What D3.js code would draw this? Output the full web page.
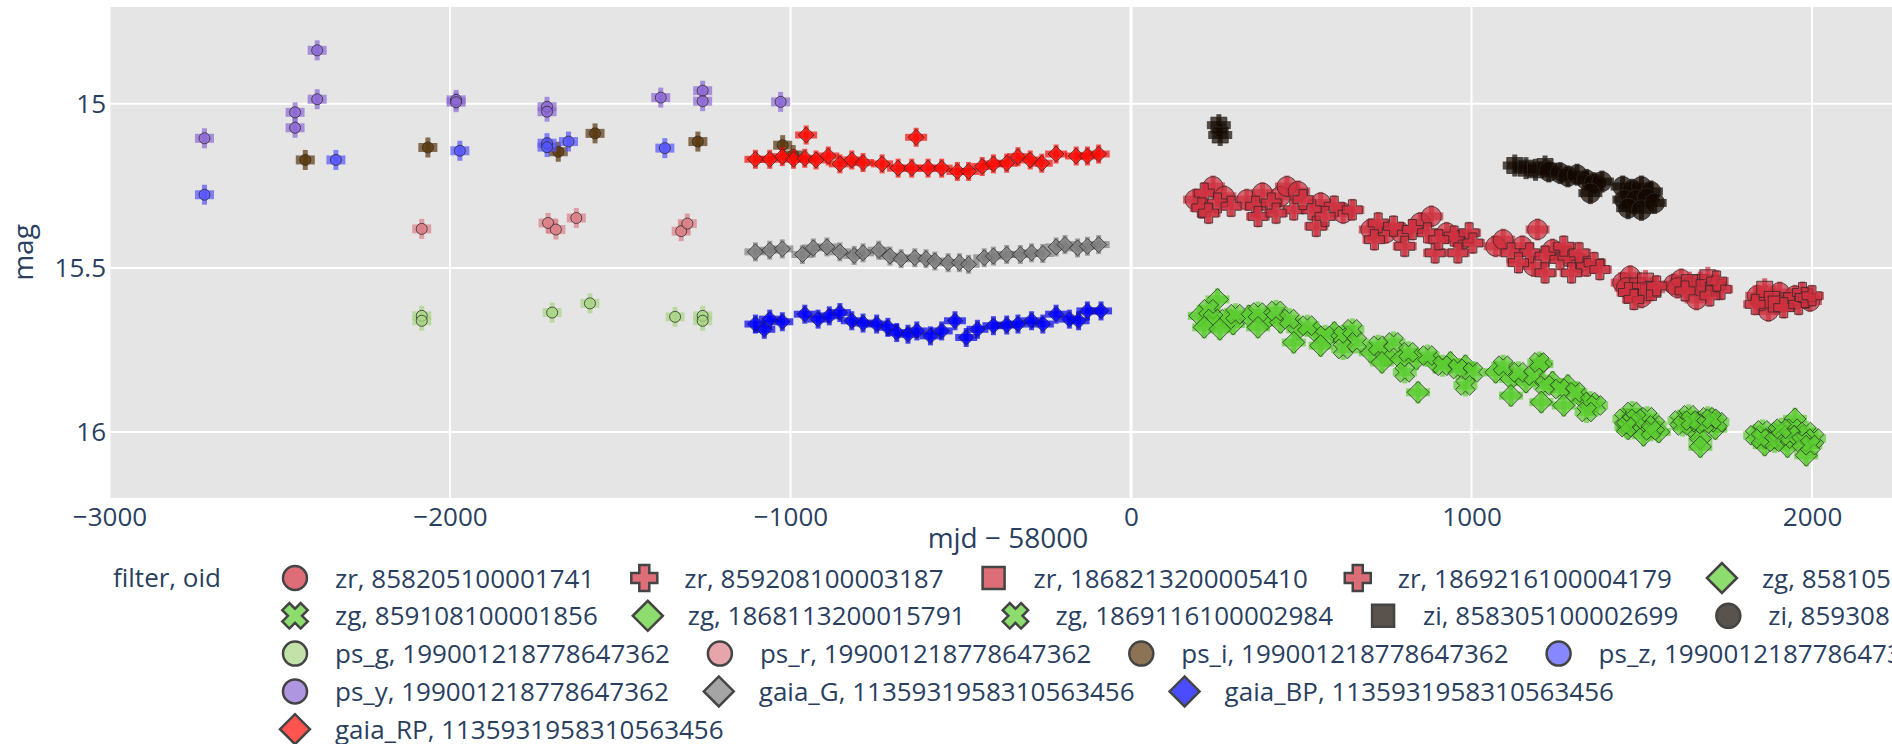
<!DOCTYPE html>
<html><head><meta charset="utf-8">
<script src="https://cdn.jsdelivr.net/npm/d3@7"></script>
<style>
html,body{margin:0;padding:0;background:#fff;overflow:hidden;}
svg text{font-family:"Open Sans",sans-serif;}
</style></head><body>
<svg id="chart" width="1892" height="744"></svg>
<script>
// ---------- data (mjd - 58000, mag) ----------
const xTicks = [-3000, -2000, -1000, 0, 1000, 2000];
const yTicks = [15, 15.5, 16];

const zr_858205100001741 = [[188,15.292],[241,15.252],[274,15.282],[340,15.292],[386,15.272],[439,15.282],[458,15.252],[491,15.267],[557,15.302],[623,15.333],[704,15.383],[749,15.393],[793,15.393],[849,15.363],[882,15.343],[927,15.393],[971,15.414],[1071,15.434],[1093,15.414],[1149,15.434],[1194,15.383],[1238,15.444],[1182,15.494],[1316,15.484],[1444,15.545],[1466,15.525],[1499,15.590],[1455,15.560],[1594,15.550],[1616,15.535],[1661,15.596],[1605,15.560],[1839,15.585],[1872,15.631],[1905,15.575],[1950,15.585],[1994,15.601],[1850,15.600]];
const zr_859208100003187 = [[215,15.272],[254,15.302],[294,15.312],[366,15.312],[412,15.302],[478,15.323],[531,15.323],[597,15.312],[650,15.323],[726,15.363],[771,15.373],[826,15.383],[871,15.393],[949,15.403],[993,15.393],[1004,15.424],[1116,15.454],[1171,15.454],[1216,15.464],[1260,15.474],[1283,15.464],[1338,15.494],[1360,15.484]];
const zr_1868213200005410 = [[1488,15.555],[1511,15.540],[1533,15.565],[1520,15.575],[1490,15.570],[1650,15.555],[1672,15.545],[1694,15.530],[1640,15.545],[1683,15.560],[1861,15.565],[1883,15.596],[1928,15.601],[1895,15.610],[1940,15.600]];
const zr_1869216100004179 = [[208,15.317],[228,15.333],[373,15.343],[426,15.333],[505,15.292],[544,15.373],[570,15.343],[715,15.414],[804,15.434],[893,15.454],[960,15.454],[904,15.414],[1138,15.484],[1216,15.515],[1271,15.434],[1294,15.515],[1316,15.454],[1377,15.505],[1461,15.575],[1477,15.596],[1544,15.555],[1716,15.555],[1733,15.565],[1700,15.585],[1627,15.570],[1720,15.540],[1917,15.621],[1961,15.611],[1972,15.575],[1833,15.611],[1980,15.590],[2000,15.585]];

const zg_858105100001740 = [[202,15.646],[254,15.596],[300,15.671],[346,15.646],[399,15.656],[439,15.666],[491,15.687],[544,15.697],[597,15.697],[704,15.757],[749,15.767],[793,15.778],[838,15.778],[893,15.788],[938,15.788],[982,15.798],[1071,15.818],[1116,15.838],[1160,15.848],[1205,15.793],[1238,15.848],[1283,15.858],[1327,15.899]];
const zg_859108100001856 = [[228,15.626],[281,15.656],[241,15.656],[373,15.636],[426,15.631],[465,15.656],[518,15.676],[570,15.707],[623,15.707],[650,15.687],[726,15.737],[771,15.727],[815,15.757],[871,15.767],[915,15.798],[960,15.808],[1004,15.818],[1093,15.798],[1138,15.818],[1182,15.828],[1216,15.858],[1260,15.869],[1305,15.879],[1349,15.909],[1366,15.919]];
const zg_1868113200015791 = [[215,15.681],[261,15.687],[373,15.681],[478,15.727],[557,15.737],[843,15.879],[737,15.788],[1116,15.889],[1205,15.909],[1271,15.919],[1460,15.990],[1505,16.010],[1550,16.000],[1650,15.990],[1672,16.020],[1672,16.045],[1716,15.990],[1861,16.040],[1928,16.045],[1983,16.071],[1950,15.960]];
const zg_1869116100002984 = [[307,15.641],[623,15.747],[663,15.727],[804,15.818],[982,15.858],[1338,15.939],[1199,15.788],[1449,15.960],[1472,15.939],[1494,15.970],[1516,15.955],[1538,15.980],[1466,15.975],[1483,15.960],[1527,15.995],[1455,15.985],[1611,15.965],[1638,15.949],[1666,15.970],[1694,15.955],[1722,15.970],[1620,15.980],[1683,15.975],[1705,15.960],[1644,15.965],[1833,16.010],[1855,15.995],[1878,16.020],[1900,16.000],[1922,16.020],[1944,15.990],[1961,16.010],[1983,16.000],[2006,16.020],[1850,16.020],[1890,16.030],[1935,16.010],[1970,16.030],[1995,16.040],[1910,15.990]];

const zi_858305100002699 = [[258,15.065],[262,15.095],[1127,15.188],[1160,15.196],[1188,15.201],[1216,15.191]];
const zi_859308100001835 = [[1227,15.206],[1260,15.211],[1283,15.221],[1310,15.216],[1338,15.232],[1360,15.242],[1383,15.237],[1349,15.272],[1444,15.252],[1472,15.262],[1499,15.252],[1527,15.267],[1449,15.292],[1483,15.292],[1516,15.287],[1460,15.318],[1499,15.323],[1538,15.302]];

const ps_g = [[-2083,15.646],[-2083,15.661],[-1700,15.636],[-1589,15.608],[-1339,15.649],[-1258,15.646],[-1258,15.661]];
const ps_r = [[-2083,15.381],[-1712,15.363],[-1689,15.383],[-1629,15.348],[-1321,15.388],[-1303,15.365]];
const ps_i = [[-2425,15.171],[-2065,15.133],[-1682,15.146],[-1574,15.090],[-1272,15.115],[-1023,15.126],[-992,15.156]];
const ps_z = [[-2721,15.277],[-2335,15.171],[-1971,15.143],[-1715,15.120],[-1715,15.132],[-1652,15.115],[-1369,15.135]];
const ps_y = [[-2721,15.105],[-2455,15.026],[-2455,15.073],[-2390,14.837],[-2390,14.986],[-1982,14.988],[-1982,14.995],[-1715,15.009],[-1715,15.024],[-1381,14.981],[-1258,14.960],[-1258,14.992],[-1029,14.994]];

const gaia_G = [[-1103,15.451],[-1061,15.446],[-1024,15.442],[-965,15.459],[-933,15.439],[-893,15.436],[-855,15.451],[-813,15.462],[-787,15.454],[-741,15.446],[-708,15.464],[-675,15.472],[-635,15.469],[-602,15.472],[-576,15.479],[-537,15.484],[-504,15.484],[-477,15.489],[-431,15.469],[-404,15.464],[-365,15.459],[-325,15.459],[-292,15.454],[-259,15.456],[-220,15.436],[-194,15.429],[-157,15.439],[-128,15.434],[-95,15.429]];
const gaia_BP = [[-1103,15.671],[-1077,15.687],[-1061,15.656],[-1024,15.664],[-958,15.641],[-919,15.656],[-886,15.646],[-855,15.636],[-820,15.661],[-787,15.668],[-747,15.671],[-714,15.681],[-688,15.697],[-655,15.702],[-629,15.692],[-589,15.707],[-556,15.692],[-517,15.661],[-484,15.712],[-451,15.687],[-404,15.676],[-365,15.674],[-332,15.671],[-292,15.661],[-259,15.671],[-220,15.641],[-181,15.656],[-154,15.661],[-128,15.631],[-88,15.631]];
const gaia_RP = [[-1103,15.169],[-1061,15.169],[-1024,15.161],[-991,15.169],[-958,15.166],[-925,15.171],[-889,15.159],[-855,15.183],[-820,15.171],[-787,15.179],[-731,15.183],[-684,15.196],[-644,15.196],[-596,15.196],[-556,15.196],[-510,15.206],[-477,15.206],[-437,15.191],[-404,15.183],[-365,15.181],[-332,15.161],[-296,15.171],[-262,15.181],[-220,15.153],[-161,15.159],[-128,15.159],[-95,15.153],[-954,15.095],[-631,15.102]];

// ---------- series configuration (legend order) ----------
const series = [
  {name:'zr, 858205100001741', data:zr_858205100001741, sym:'circle', color:'#ce313f', kind:'ztf'},
  {name:'zr, 859208100003187', data:zr_859208100003187, sym:'cross', color:'#ce313f', kind:'ztf'},
  {name:'zr, 1868213200005410', data:zr_1868213200005410, sym:'square', color:'#ce313f', kind:'ztf'},
  {name:'zr, 1869216100004179', data:zr_1869216100004179, sym:'cross', color:'#ce313f', kind:'ztf'},
  {name:'zg, 858105100001740', data:zg_858105100001740, sym:'diamond', color:'#5bcd31', kind:'ztf'},
  {name:'zg, 859108100001856', data:zg_859108100001856, sym:'x', color:'#5bcd31', kind:'ztf'},
  {name:'zg, 1868113200015791', data:zg_1868113200015791, sym:'diamond', color:'#5bcd31', kind:'ztf'},
  {name:'zg, 1869116100002984', data:zg_1869116100002984, sym:'x', color:'#5bcd31', kind:'ztf'},
  {name:'zi, 858305100002699', data:zi_858305100002699, sym:'square', color:'#140800', kind:'ztf'},
  {name:'zi, 859308100001835', data:zi_859308100001835, sym:'circle', color:'#140800', kind:'ztf'},
  {name:'ps_g, 199001218778647362', data:ps_g, sym:'circle', color:'#aad586', kind:'ps'},
  {name:'ps_r, 199001218778647362', data:ps_r, sym:'circle', color:'#dc7f86', kind:'ps'},
  {name:'ps_i, 199001218778647362', data:ps_i, sym:'circle', color:'#5b370d', kind:'ps'},
  {name:'ps_z, 199001218778647362', data:ps_z, sym:'circle', color:'#5454ff', kind:'ps'},
  {name:'ps_y, 199001218778647362', data:ps_y, sym:'circle', color:'#8d69d4', kind:'ps'},
  {name:'gaia_G, 1135931958310563456', data:gaia_G, sym:'diamond', color:'#7f7f7f', kind:'gaia'},
  {name:'gaia_BP, 1135931958310563456', data:gaia_BP, sym:'diamond', color:'#0000ff', kind:'gaia'},
  {name:'gaia_RP, 1135931958310563456', data:gaia_RP, sym:'diamond', color:'#ff0c06', kind:'gaia'}
];

// ---------- layout ----------
const TXT = '#2a3f5f';
const plot = {l:110, r:1906, t:7, b:498};
const svg = d3.select('#chart');
const x = d3.scaleLinear().domain([-2998.5, 2276]).range([plot.l, plot.r]);
const y = d3.scaleLinear().domain([14.705, 16.201]).range([plot.t, plot.b]);

svg.append('rect').attr('x',plot.l).attr('y',plot.t)
  .attr('width',plot.r-plot.l).attr('height',plot.b-plot.t).attr('fill','#e5e5e5');

// grid
svg.append('g').selectAll('line').data(xTicks).join('line')
  .attr('x1',d=>x(d)).attr('x2',d=>x(d)).attr('y1',plot.t).attr('y2',plot.b)
  .attr('stroke','#fff').attr('stroke-width',d=>d===0?3:2);
svg.append('g').selectAll('line').data(yTicks).join('line')
  .attr('x1',plot.l).attr('x2',plot.r).attr('y1',d=>y(d)).attr('y2',d=>y(d))
  .attr('stroke','#fff').attr('stroke-width',2);

// axes
const xAxis = svg.append('g').attr('transform',`translate(0,${plot.b})`)
  .call(d3.axisBottom(x).tickValues(xTicks).tickSize(0).tickPadding(10).tickFormat(d=>d3.format('')(d)));
const yAxis = svg.append('g').attr('transform',`translate(${plot.l},0)`)
  .call(d3.axisLeft(y).tickValues(yTicks).tickSize(0).tickPadding(4).tickFormat(d=>String(d)));
[xAxis,yAxis].forEach(a=>{
  a.select('.domain').remove();
  a.selectAll('text').attr('fill',TXT).style('font-size','26px').style('font-family','"Open Sans",sans-serif');
});

svg.append('text').attr('x',(plot.l+plot.r)/2).attr('y',548).attr('text-anchor','middle')
  .attr('fill',TXT).style('font-size','28px').text('mjd − 58000');
svg.append('text').attr('transform',`translate(33,${(plot.t+plot.b)/2}) rotate(-90)`)
  .attr('text-anchor','middle').attr('fill',TXT).style('font-size','28px').text('mag');

// ---------- symbols ----------
function symPath(sym, s){
  if(sym==='circle'){const r=s.r; return `M${r},0A${r},${r} 0 1,1 ${-r},0A${r},${r} 0 1,1 ${r},0Z`;}
  if(sym==='square'){const h=s.h; return `M${-h},${-h}H${h}V${h}H${-h}Z`;}
  if(sym==='diamond'){const R=s.R; return `M${R},0L0,${R}L${-R},0L0,${-R}Z`;}
  const R=s.R, t=s.t;
  let pts=[[t,-R],[t,-t],[R,-t],[R,t],[t,t],[t,R],[-t,R],[-t,t],[-R,t],[-R,-t],[-t,-t],[-t,-R]];
  if(sym==='x'){const c=Math.SQRT1_2; pts=pts.map(([a,b])=>[(a-b)*c,(a+b)*c]);}
  return 'M'+pts.map(p=>p[0].toFixed(2)+','+p[1].toFixed(2)).join('L')+'Z';
}
const kinds = {
  ps:   {size:{r:5.5,h:5,R:7,t:2.5}, hw:9.5, hh:4.5, vw:2.5, vh:10},
  gaia: {size:{r:7,h:6,R:8,t:3}, hw:11, hh:3.5, vw:2.5, vh:9.5},
  ztf:  {size:{r:10,h:8,R:11,t:4}, hw:12, hh:4, vw:2.5, vh:11}
};
const crossSize = {r:10,h:8,R:10,t:4};

svg.append('clipPath').attr('id','clip').append('rect')
  .attr('x',plot.l).attr('y',plot.t).attr('width',plot.r-plot.l).attr('height',plot.b-plot.t);
const marks = svg.append('g').attr('clip-path','url(#clip)');

series.forEach(s=>{
  const k = kinds[s.kind];
  const g = marks.append('g');
  g.selectAll('rect.h').data(s.data).join('rect').attr('class','h')
    .attr('x',d=>x(d[0])-k.hw).attr('y',d=>y(d[1])-k.hh)
    .attr('width',2*k.hw).attr('height',2*k.hh)
    .attr('fill',s.color).attr('fill-opacity',0.7);
  g.selectAll('rect.v').data(s.data).join('rect').attr('class','v')
    .attr('x',d=>x(d[0])-k.vw).attr('y',d=>y(d[1])-k.vh)
    .attr('width',2*k.vw).attr('height',2*k.vh)
    .attr('fill',s.color).attr('fill-opacity',0.7);
  const sz = (s.kind==='ztf' && (s.sym==='cross'||s.sym==='x')) ? crossSize : k.size;
  const p = symPath(s.sym, sz);
  g.selectAll('path').data(s.data).join('path')
    .attr('d',p).attr('transform',d=>`translate(${x(d[0])},${y(d[1])})`)
    .attr('fill',s.color).attr('fill-opacity',0.7)
    .attr('stroke','#2a2a2a').attr('stroke-width',1).attr('stroke-opacity',0.75);
});

// ---------- legend ----------
const leg = svg.append('g');
leg.append('text').attr('x',113).attr('y',587).attr('fill',TXT).style('font-size','26px').text('filter, oid');
const legSize = {r:12,h:11,R:15,t:5};
const LIMIT = 2075, X0 = 295, ROW0 = 578, ROWH = 37.8;
let cx = X0, row = 0;
series.forEach(s=>{
  const t = leg.append('text').attr('fill',TXT).style('font-size','26px').text(s.name);
  const tw = t.node().getComputedTextLength();
  if(cx + 40 + tw + 10 > LIMIT && cx > X0){row++; cx = X0;}
  const cy = ROW0 + row*ROWH;
  t.attr('x',cx+40).attr('y',cy+9.5);
  const ls = (s.sym==='cross'||s.sym==='x') ? {r:12,h:11,R:13,t:5} : legSize;
  leg.append('path').attr('d',symPath(s.sym, ls)).attr('transform',`translate(${cx},${cy})`)
    .attr('fill',s.color).attr('fill-opacity',0.7)
    .attr('stroke','#444').attr('stroke-width',2.5);
  cx = cx + 40 + tw + 50;
});
</script>
</body></html>
